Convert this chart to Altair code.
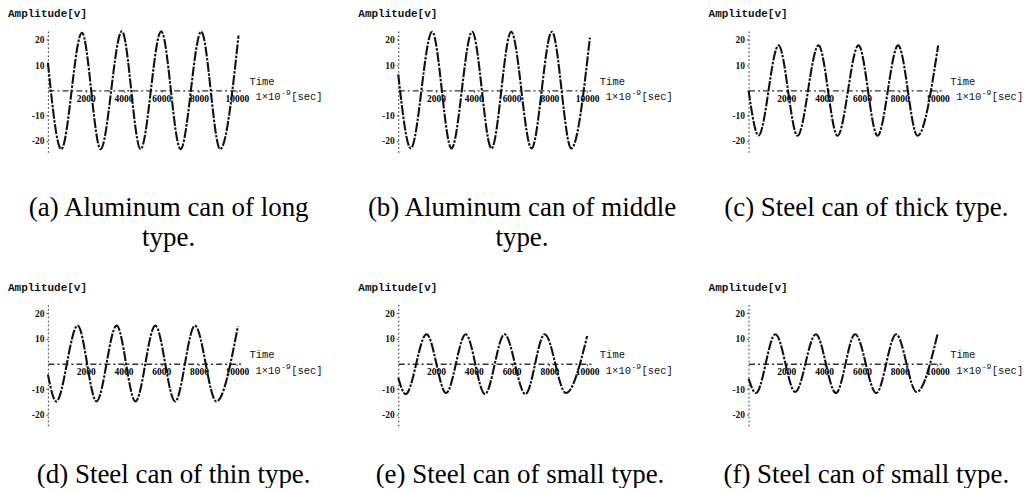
import altair as alt
import pandas as pd

# ---- data (time in 1e-9 s, amplitude in V) ----
time_a = [0, 705, 1800, 2787, 3915, 4903, 5996, 7019, 8113, 9118, 10088]
amp_a = [11, -23.3, 22.8, -23.3, 23.4, -23.3, 23.4, -23.3, 23.2, -23.3, 21.7]

time_b = [0, 664, 1795, 2819, 3914, 4937, 5978, 7056, 8133, 9156, 10144]
amp_b = [6.3, -23.0, 23.2, -23.0, 23.2, -23.0, 23.2, -23.0, 23.2, -23.0, 20.9]

time_c = [0, 529, 1587, 2593, 3704, 4709, 5820, 6825, 7919, 8942, 10035]
amp_c = [0, -17.9, 17.8, -18.0, 17.8, -18.0, 17.8, -18.0, 17.8, -18.0, 17.8]

time_d = [0, 437, 1573, 2570, 3636, 4633, 5682, 6731, 7780, 8916, 10052]
amp_d = [-4.3, -14.9, 15.1, -14.9, 15.1, -14.9, 15.1, -14.9, 15.1, -14.9, 14.8]

time_e = [0, 393, 1500, 2536, 3571, 4589, 5625, 6732, 7750, 8875, 10000]
amp_e = [-5.6, -12.0, 11.7, -11.6, 11.7, -12.0, 11.7, -12.0, 11.7, -11.6, 11.0]

time_f = [0, 391, 1423, 2473, 3559, 4626, 5641, 6762, 7811, 8897, 10000]
amp_f = [-5.9, -11.6, 11.7, -11.2, 11.7, -11.6, 11.7, -11.6, 11.7, -11.2, 11.7]

captions = [
    "(a) Aluminum can of long\ntype.",
    "(b) Aluminum can of middle\ntype.",
    "(c) Steel can of thick type.",
    "(d) Steel can of thin type.",
    "(e) Steel can of small type.",
    "(f) Steel can of small type.",
]
y_label = "Amplitude[v]"
x_label = "Time"
unit_parts = ["1\u00d710", "-9", "[sec]"]
x_ticks = [2000, 4000, 6000, 8000, 10000]
y_ticks = [-20, -10, 10, 20]

# ---- layout / style ----
W, H = 195, 124
X_DOMAIN = [0, 10300]
Y_DOMAIN = [-24.5, 24.5]
CAP_DX = [121, 124, 118, 126, 122, 118]
CAP_DY = [188, 188, 188, 181, 181, 181]
MONO = "Liberation Mono"
SERIF = "Liberation Serif"

series = [(time_a, amp_a), (time_b, amp_b), (time_c, amp_c),
          (time_d, amp_d), (time_e, amp_e), (time_f, amp_f)]

one = alt.Data(values=[{}])


def txt(text, x, y, size, font=MONO, weight="normal", align="left", baseline="middle", color="#111"):
    return alt.Chart(one).mark_text(
        text=text, align=align, baseline=baseline, font=font, fontSize=size,
        fontWeight=weight, color=color
    ).encode(x=alt.value(x), y=alt.value(y))


def panel(i):
    t, a = series[i]
    df = pd.DataFrame({"t": t, "amp": a})
    x = alt.X(
        "t:Q",
        scale=alt.Scale(domain=X_DOMAIN, nice=False, zero=False),
        axis=alt.Axis(
            values=x_ticks, title=None, offset=-H / 2, grid=False,
            domainDash=[6, 3, 2, 3], domainColor="#333", domainWidth=1.3,
            tickSize=2, tickColor="#444", labelFont=SERIF, labelFontSize=9.5,
            labelFontWeight="bold", labelColor="#000", labelPadding=1,
            labelExpr="datum.value + ''",
        ),
    )
    y = alt.Y(
        "amp:Q",
        scale=alt.Scale(domain=Y_DOMAIN, nice=False, zero=False),
        axis=alt.Axis(
            values=y_ticks, title=None, grid=False,
            domainDash=[1.5, 2.5], domainColor="#444", domainWidth=1.2,
            tickSize=2, tickColor="#555", labelFont=SERIF, labelFontSize=9.5,
            labelFontWeight="bold", labelColor="#111", labelPadding=2,
            labelExpr="datum.value + ''",
        ),
    )
    wave = alt.Chart(df).mark_line(
        interpolate="monotone", color="#111", strokeWidth=2.1,
        strokeDash=[10, 1.5, 2.5, 1.5]
    ).encode(x=x, y=y)

    cap = alt.Chart(one).mark_text(
        text=captions[i], align="center", baseline="alphabetic", font=SERIF,
        fontSize=27, lineHeight=30, lineBreak="\n", color="#000"
    ).encode(x=alt.value(CAP_DX[i]), y=alt.value(CAP_DY[i]))

    layers = [
        wave,
        txt(y_label, -40, -14, 11, weight="bold"),
        txt(x_label, 202, H / 2 - 8.5, 10.5),
        txt(unit_parts[0], 208, H / 2 + 7, 10.5),
        txt(unit_parts[1], 208 + 25.7, H / 2 + 3, 8),
        txt(unit_parts[2], 208 + 25.7 + 10, H / 2 + 7, 10.5),
        cap,
    ]
    return alt.layer(*layers).properties(width=W, height=H)


chart = alt.concat(
    *[panel(i) for i in range(6)],
    columns=3,
    spacing={"row": 150, "column": 156},
    bounds="flush",
).properties(
    padding={"left": 0, "top": 0, "right": 0, "bottom": 0},
    background="white",
).configure_view(strokeWidth=0)

chart.save("out.html", embed_options={"renderer": "svg", "actions": False})
